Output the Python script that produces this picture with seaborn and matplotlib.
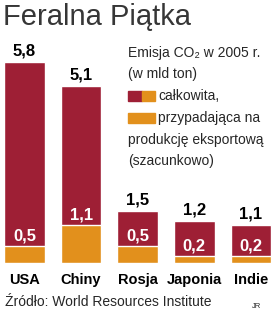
import seaborn as sns
import pandas as pd
from matplotlib import pyplot as plt
from matplotlib.patches import Rectangle

# data
countries = ['USA', 'Chiny', 'Rosja', 'Japonia', 'Indie']
total = [5.8, 5.1, 1.5, 1.2, 1.1]
export = [0.5, 1.1, 0.5, 0.2, 0.2]

red = '#9e1f35'
orange = '#e2901c'

sns.set_style('white')
plt.rcParams['font.family'] = ['Liberation Sans', 'DejaVu Sans']

df = pd.DataFrame({'kraj': countries, 'total': total, 'export': export})

fig = plt.figure(figsize=(2.8, 3.17), dpi=100)
# axes from the baseline (y=263px) to the top of the figure
ax = fig.add_axes([0, 54 / 317, 1, 263 / 317])

sns.barplot(data=df, x='kraj', y='total', color=red, width=0.72,
            saturation=1, ax=ax)
sns.barplot(data=df, x='kraj', y='export', color=orange, width=0.72,
            saturation=1, ax=ax)

px = 263 / 7.58  # pixels per unit
ax.set_xlim(-0.433, 4.514)
ax.set_ylim(0, 7.58)
ax.axis('off')

for i, (t, e) in enumerate(zip(total, export)):
    ax.text(i, t + 11 / px, f'{t:.1f}'.replace('.', ','), ha='center',
            va='center', fontsize=12, fontweight='bold', color='black')
    # labels inside the bars, just above the orange part
    ax.text(i, e + 10 / px, f'{e:.1f}'.replace('.', ','), ha='center',
            va='center', fontsize=12, fontweight='bold', color='white')
    ax.text(i, -17 / px, countries[i], ha='center', va='center',
            fontsize=10.5, fontweight='bold', color='black')


def fy(y):
    return 1 - y / 317


fig.text(3 / 280, fy(17), 'Feralna Piątka', fontsize=21,
         color='#363636', va='center', ha='left')

lx = 128 / 280
fig.text(lx, fy(53), 'Emisja CO₂ w 2005 r.', fontsize=10, va='center')
fig.text(lx, fy(74), '(w mld ton)', fontsize=10, va='center')
fig.text(158 / 280, fy(96), 'całkowita,', fontsize=10, va='center')
fig.text(158 / 280, fy(118), 'przypadająca na', fontsize=10, va='center')
fig.text(lx, fy(140), 'produkcję eksportową', fontsize=10, va='center')
fig.text(lx, fy(161), '(szacunkowo)', fontsize=10, va='center')

# legend swatches
fig.patches.append(Rectangle((128 / 280, fy(101)), 14 / 280, 10 / 317,
                             transform=fig.transFigure, color=red))
fig.patches.append(Rectangle((142 / 280, fy(101)), 13 / 280, 10 / 317,
                             transform=fig.transFigure, color=orange))
fig.patches.append(Rectangle((128 / 280, fy(123)), 27 / 280, 10 / 317,
                             transform=fig.transFigure, color=orange))

fig.text(5 / 280, fy(302), 'Źródło: World Resources Institute', fontsize=10,
         va='center')
fig.text(252 / 280, fy(306), 'JR', fontsize=5.5, va='center')

fig.savefig('out.png', dpi=100)
